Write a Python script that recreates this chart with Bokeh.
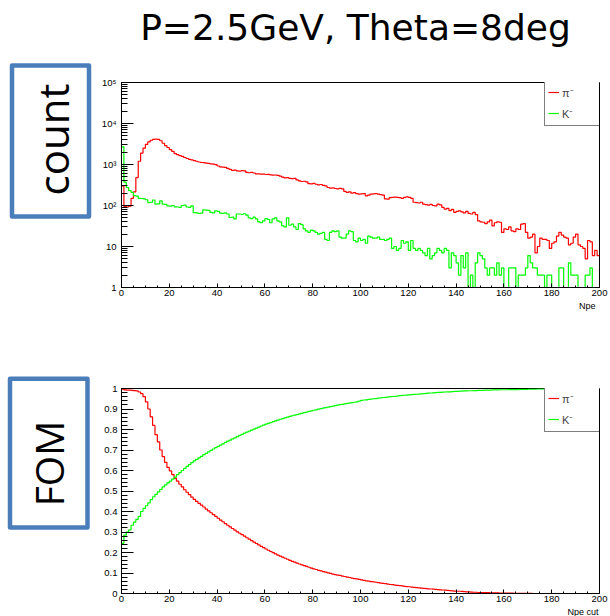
import numpy as np
from bokeh.plotting import figure
from bokeh.layouts import column, row
from bokeh.models import Range1d, SingleIntervalTicker, LogTicker, Legend, LegendItem, Title
from bokeh.core.properties import value
from bokeh.embed import file_html
from bokeh.resources import INLINE

# ---------------- data ----------------
TITLE = "P=2.5GeV, Theta=8deg"
TOP_TAG = "count"
BOTTOM_TAG = "FOM"
SERIES = ["π⁻", "K⁻"]
X_TITLE_TOP = "Npe"
X_TITLE_BOTTOM = "Npe cut"
NPE_MIN, NPE_MAX = 0, 200
COUNT_MIN, COUNT_MAX = 1, 100000
FOM_MIN, FOM_MAX = 0, 1
LOG_LABELS = {1: "1", 10: "10", 100: "10²", 1000: "10³", 10000: "10⁴", 100000: "10⁵"}
LIN_LABELS = {0: "0", 1: "1"}

pi_counts = [
    300, 95, 92, 96, 150, 215, 480, 1200, 1900, 2500,
    3100, 3550, 3900, 4100, 4150, 4100, 3800, 3300, 2900, 2600,
    2300, 2100, 1850, 1750, 1650, 1580, 1480, 1400, 1340, 1290,
    1250, 1200, 1150, 1120, 1110, 1080, 1060, 1040, 1020, 990,
    920, 880, 860, 850, 800, 760, 720, 730, 700, 690,
    705, 700, 640, 630, 640, 620, 590, 590, 580, 585,
    570, 575, 560, 550, 555, 540, 520, 490, 470, 480,
    460, 450, 460, 420, 400, 385, 390, 375, 340, 335,
    345, 330, 320, 325, 310, 300, 275, 265, 270, 260,
    255, 262, 255, 220, 210, 215, 200, 205, 195, 190,
    192, 195, 172, 180, 190, 192, 195, 190, 185, 180,
    145, 143, 155, 157, 160, 158, 155, 150, 157, 162,
    158, 150, 120, 118, 115, 120, 108, 105, 102, 106,
    100, 98, 108, 104, 90, 82, 85, 75, 80, 68,
    72, 74, 70, 66, 72, 64, 62, 68, 60, 42,
    40, 39, 36, 40, 44, 32, 38, 40, 39, 22,
    27, 26, 30, 24, 23, 27, 26, 35, 36, 22,
    16, 17, 20, 7, 10, 16, 15, 15, 14, 9,
    12, 13, 18, 22, 19, 17, 16, 11, 12, 17,
    20, 11, 10, 9, 5, 14, 13, 6, 8, 6,
]

k_counts = [
    2700, 370, 275, 230, 210, 175, 170, 150, 148, 145,
    138, 118, 120, 136, 108, 110, 130, 108, 106, 98,
    97, 100, 93, 92, 90, 100, 102, 92, 90, 98,
    67, 66, 64, 65, 78, 77, 76, 68, 66, 74,
    72, 65, 64, 66, 62, 51, 52, 47, 62, 62,
    61, 63, 58, 50, 48, 52, 47, 40, 38, 42,
    48, 46, 38, 47, 50, 42, 40, 32, 30, 50,
    33, 35, 30, 26, 36, 34, 27, 24, 22, 25,
    24, 22, 20, 21, 22, 15, 14, 22, 24, 23,
    24, 17, 16, 16, 20, 24, 23, 14, 13, 16,
    14, 15, 12, 18, 17, 16, 16, 17, 15, 15,
    14, 15, 16, 9, 10, 8, 9, 14, 12, 13,
    8, 14, 9, 8, 9, 8, 7, 6, 9, 5,
    6, 7, 9, 8, 7, 9, 8, 3, 7, 6,
    4, 2, 6, 3, 7, 1, 2, 1, 4, 7,
    6, 5, 3, 2, 3, 3, 2, 4, 2, 3,
    1, 0, 3, 3, 3, 0, 2, 2, 2, 3,
    6, 4, 3, 3, 2, 2, 2, 0, 2, 2,
    0, 0, 0, 3, 3, 0, 0, 4, 2, 2,
    2, 0, 0, 0, 2, 2, 3, 0, 0, 0,
]

pi_fom = [
    0.997, 0.993, 0.992, 0.992, 0.991, 0.990, 0.988, 0.983, 0.975, 0.960,
    0.935, 0.900, 0.862, 0.820, 0.775, 0.740, 0.700, 0.668, 0.640, 0.615,
    0.598, 0.580, 0.562, 0.548, 0.533, 0.520, 0.506, 0.494, 0.482, 0.470,
    0.459, 0.449, 0.440, 0.431, 0.422, 0.412, 0.403, 0.394, 0.385, 0.376,
    0.367, 0.358, 0.350, 0.341, 0.333, 0.325, 0.317, 0.309, 0.301, 0.294,
    0.287, 0.280, 0.272, 0.265, 0.258, 0.251, 0.244, 0.237, 0.230, 0.224,
    0.217, 0.211, 0.205, 0.199, 0.193, 0.187, 0.182, 0.177, 0.172, 0.167,
    0.162, 0.157, 0.153, 0.148, 0.144, 0.140, 0.136, 0.132, 0.128, 0.124,
    0.120, 0.117, 0.113, 0.110, 0.107, 0.104, 0.101, 0.098, 0.095, 0.092,
    0.090, 0.088, 0.085, 0.083, 0.080, 0.078, 0.075, 0.073, 0.071, 0.069,
    0.066, 0.064, 0.062, 0.060, 0.058, 0.057, 0.055, 0.053, 0.051, 0.049,
    0.048, 0.046, 0.044, 0.043, 0.041, 0.040, 0.038, 0.037, 0.035, 0.034,
    0.033, 0.031, 0.030, 0.029, 0.027, 0.026, 0.025, 0.024, 0.023, 0.022,
    0.021, 0.020, 0.019, 0.018, 0.017, 0.016, 0.015, 0.014, 0.013, 0.012,
    0.011, 0.011, 0.010, 0.009, 0.008, 0.008, 0.007, 0.006, 0.006, 0.005,
    0.005, 0.004, 0.004, 0.004, 0.003, 0.003, 0.003, 0.003, 0.002, 0.002,
    0.002, 0.002, 0.002, 0.002, 0.001, 0.001, 0.001, 0.001, 0.001, 0.001,
    0.001, 0.001, 0.0, 0.0, 0.0, 0.0, 0.0, 0.0, 0.0, 0.0,
    0.0, 0.0, 0.0, 0.0, 0.0, 0.0, 0.0, 0.0, 0.0, 0.0,
    0.0, 0.0, 0.0, 0.0, 0.0, 0.0, 0.0, 0.0, 0.0, 0.0,
]

k_fom = [
    0.245, 0.285, 0.300, 0.310, 0.333, 0.348, 0.362, 0.376, 0.400, 0.415,
    0.428, 0.442, 0.458, 0.472, 0.484, 0.496, 0.508, 0.520, 0.530, 0.540,
    0.548, 0.558, 0.568, 0.580, 0.590, 0.600, 0.610, 0.620, 0.629, 0.638,
    0.647, 0.654, 0.662, 0.669, 0.677, 0.684, 0.691, 0.698, 0.705, 0.712,
    0.718, 0.724, 0.730, 0.737, 0.743, 0.748, 0.754, 0.759, 0.765, 0.771,
    0.776, 0.782, 0.787, 0.792, 0.797, 0.802, 0.807, 0.812, 0.817, 0.821,
    0.826, 0.830, 0.834, 0.838, 0.842, 0.846, 0.850, 0.853, 0.857, 0.860,
    0.864, 0.867, 0.870, 0.873, 0.876, 0.879, 0.882, 0.885, 0.888, 0.891,
    0.894, 0.896, 0.899, 0.902, 0.904, 0.907, 0.909, 0.912, 0.914, 0.916,
    0.919, 0.921, 0.923, 0.925, 0.927, 0.929, 0.931, 0.933, 0.935, 0.938,
    0.942, 0.944, 0.945, 0.947, 0.948, 0.950, 0.951, 0.953, 0.954, 0.956,
    0.957, 0.958, 0.960, 0.961, 0.962, 0.963, 0.965, 0.966, 0.967, 0.968,
    0.969, 0.970, 0.971, 0.972, 0.973, 0.974, 0.975, 0.976, 0.977, 0.978,
    0.979, 0.980, 0.981, 0.981, 0.982, 0.983, 0.984, 0.984, 0.985, 0.986,
    0.986, 0.987, 0.987, 0.988, 0.988, 0.989, 0.989, 0.990, 0.990, 0.991,
    0.991, 0.991, 0.992, 0.992, 0.992, 0.993, 0.993, 0.993, 0.994, 0.994,
    0.994, 0.994, 0.995, 0.995, 0.995, 0.995, 0.996, 0.996, 0.996, 0.996,
    0.997, 0.997, 0.997, 0.997, 0.998, 0.998, 0.998, 0.998, 0.998, 0.999,
    0.999, 0.999, 0.999, 0.999, 0.999, 0.999, 0.999, 0.999, 1.0, 1.0,
    1.0, 1.0, 1.0, 1.0, 1.0, 1.0, 1.0, 1.0, 1.0, 1.0,
]

# ---------------- style ----------------
RED = "#ff0000"
GREEN = "#00ff00"
BLUE = "#4a7ebb"
SANS = "Liberation Sans"
SLIDE = "Open Sans"
PAGE_W = 610
TAG_W = 93
PLOT_W = PAGE_W - TAG_W


def canvas(width, height):
    p = figure(width=width, height=height, x_range=Range1d(0, width), y_range=Range1d(0, height),
               x_axis_type=None, y_axis_type=None, min_border=0, output_backend="svg",
               toolbar_location=None, outline_line_color=None, frame_align=False,
               background_fill_color="white", border_fill_color="white")
    p.xgrid.visible = False
    p.ygrid.visible = False
    return p


def tag_panel(height, box, text, mid_x, center_y, size):
    p = canvas(TAG_W, height)
    l, r, b, t = box
    p.quad(left=[l], right=[r], bottom=[b], top=[t], fill_color="white",
           line_color=BLUE, line_width=4.5, line_join="round")
    p.text(x=[mid_x], y=[center_y], text=[text], angle=np.pi / 2,
           text_font=value(SLIDE), text_font_size=size, text_color="black",
           text_align="center", text_baseline="middle")
    return p


def hist_plot(height, top, bottom, yr, ylog, ys, xtitle, xtitle_offset):
    p = figure(width=PLOT_W, height=height, x_range=Range1d(NPE_MIN, NPE_MAX), y_range=Range1d(*yr),
               y_axis_type="log" if ylog else "linear",
               min_border_left=28, min_border_right=11, min_border_top=top, min_border_bottom=bottom,
               output_backend="svg", toolbar_location=None, frame_align=False,
               background_fill_color="white", border_fill_color="white",
               outline_line_color="black", outline_line_width=1)
    p.xgrid.visible = False
    p.ygrid.visible = False
    p.xaxis.ticker = SingleIntervalTicker(interval=20, num_minor_ticks=4)
    if ylog:
        p.yaxis.ticker = LogTicker(num_minor_ticks=10)
        p.yaxis.major_label_overrides = LOG_LABELS
        p.yaxis.major_label_standoff = 5
    else:
        p.yaxis.ticker = SingleIntervalTicker(interval=0.1, num_minor_ticks=5)
        p.yaxis.major_label_overrides = LIN_LABELS
        p.yaxis.major_label_standoff = 4
    for ax in p.axis:
        ax.axis_line_color = "black"
        ax.major_tick_line_color = "black"
        ax.minor_tick_line_color = "black"
        ax.major_label_text_font = SANS
        ax.major_label_text_font_size = "9.5px"
        ax.major_label_text_color = "black"
        ax.major_tick_out = 0
        ax.minor_tick_out = 0
    p.xaxis.major_tick_in = 4
    p.xaxis.minor_tick_in = 2
    p.xaxis.major_label_standoff = 2
    p.yaxis.major_tick_in = 12
    p.yaxis.minor_tick_in = 6

    renderers = []
    for vals, col in zip(ys, [RED, GREEN]):
        v = np.asarray(vals, dtype=float)
        if ylog:
            v = np.maximum(v, COUNT_MIN)
        edges = np.linspace(NPE_MIN, NPE_MAX, len(v) + 1)
        r = p.step(edges, np.append(v, v[-1]), mode="after", line_color=col, line_width=1.2)
        renderers.append(r)

    legend = Legend(items=[LegendItem(label=s, renderers=[r]) for s, r in zip(SERIES, renderers)],
                    location=(423, 161), margin=0, padding=3, spacing=3,
                    border_line_color="black", border_line_width=1,
                    background_fill_color="white", background_fill_alpha=1.0,
                    label_standoff=3, glyph_width=11, glyph_height=18,
                    label_height=18, label_width=42,
                    label_text_font=SANS, label_text_font_size="11px")
    p.add_layout(legend)
    p.add_layout(Title(text=xtitle, align="right", offset=xtitle_offset, standoff=0,
                       text_font=SANS, text_font_size="9px", text_font_style="normal",
                       text_color="black"), "below")
    return p


title = canvas(PAGE_W, 60)
title.text(x=[355], y=[33.5], text=[TITLE], text_font=value("DejaVu Sans"), text_font_size="36px",
           text_color="black", text_align="center", text_baseline="middle")

tag1 = tag_panel(310, (11.5, 88.5, 154, 305), TOP_TAG, 52, 231, "42px")
plot1 = hist_plot(310, 22, 83, (COUNT_MIN, COUNT_MAX), True, [pi_counts, k_counts], X_TITLE_TOP, 4)

tag2 = tag_panel(246, (9.5, 87, 89, 237.7), BOTTOM_TAG, 48, 153, "39px")
plot2 = hist_plot(246, 18, 23, (FOM_MIN, FOM_MAX), False, [pi_fom, k_fom], X_TITLE_BOTTOM, 1)

layout = column(title, row(tag1, plot1), row(tag2, plot2))

open("out.html", "w").write(file_html(layout, INLINE))
